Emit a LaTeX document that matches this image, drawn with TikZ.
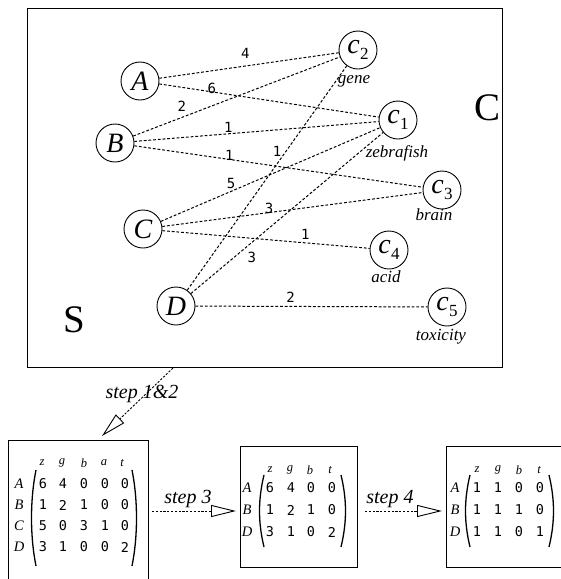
\documentclass[tikz,border=0pt]{standalone}
\usepackage{fontspec}
\setmainfont{Liberation Serif}
\newfontfamily\wfont{DejaVu Sans Mono}
\usetikzlibrary{arrows.meta}
\newcommand\cvert[1]{c\kern0.5pt\raisebox{-6pt}{\fontsize{17}{17}\selectfont\upshape #1}}
\tikzset{
 vert/.style={circle,draw,line width=0.9pt,minimum size=38pt,inner sep=0pt,font=\fontsize{28}{28}\selectfont\itshape},
 edge/.style={line width=1pt,dash pattern=on 2.8pt off 1.9pt},
 wt/.style={font=\wfont\fontsize{14}{14}\selectfont,inner sep=0pt},
 word/.style={font=\fontsize{17}{17}\selectfont\itshape,inner sep=0pt,anchor=base},
 big/.style={font=\fontsize{39}{39}\selectfont,inner sep=0pt,anchor=base},
 steplbl/.style={font=\fontsize{20}{20}\selectfont\itshape,inner sep=0pt,anchor=base},
 stepline/.style={line width=0.9pt,dash pattern=on 2.2pt off 1.6pt,-{Triangle[open,length=25pt,width=12pt,line width=0.9pt]}},
 hdr/.style={font=\fontsize{12.5}{12.5}\selectfont\itshape,inner sep=0pt},
 rowl/.style={font=\fontsize{14.5}{14.5}\selectfont\itshape,inner sep=0pt},
 dig/.style={font=\wfont\fontsize{13.5}{13.5}\selectfont,inner sep=0pt},
 paren/.style={line width=1.3pt},
 frame/.style={line width=1pt},
}
\begin{document}
\begin{tikzpicture}[x=1pt,y=-1pt]
\useasboundingbox (0,0) rectangle (561,579);
\clip (0,0) rectangle (561,579);
% top frame
\draw[frame] (27,8) rectangle (502,367);
% vertices
\node[vert] (A) at (140,81) {A};
\node[vert] (B) at (115,143) {B};
\node[vert] (C) at (143,229) {C};
\node[vert] (D) at (176,306) {D};
\node[vert] (c2) at (358,50) {\cvert{2}};
\node[vert] (c1) at (398,120) {\cvert{1}};
\node[vert] (c3) at (442,190) {\cvert{3}};
\node[vert] (c4) at (389,250) {\cvert{4}};
\node[vert] (c5) at (447,307) {\cvert{5}};
% words
\node[word] (wgene) at (354,83) {gene};
\node[word] (wzeb) at (397,157) {zebrafish};
\node[word] (wbrain) at (434,220) {brain};
\node[word] (wacid) at (386,282) {acid};
\node[word] (wtox) at (441,340) {toxicity};
\node[big] (bigC) at (488,120) {C};
\node[big] (bigS) at (74,332) {S};
% edges
\draw[edge] (A) -- node[wt,pos=.48,yshift=13pt]{4} (c2);
\draw[edge] (A) -- node[wt,pos=.24,yshift=3pt]{6} (c1);
\draw[edge] (B) -- node[wt,pos=.235,yshift=11pt]{2} (c2);
\draw[edge] (B) -- node[wt,pos=.385,yshift=6pt]{1} (c1);
\draw[edge] (B) -- node[wt,pos=.33,yshift=4pt]{1} (c3);
\draw[edge] (D) -- node[wt,pos=.62,xshift=-9pt]{1} (c2);
\draw[edge] (C) -- node[wt,pos=.32,yshift=8pt]{5} (c1);
\draw[edge] (D) -- node[wt,pos=.28,xshift=7pt,yshift=-9pt]{3} (c1);
\draw[edge] (C) -- node[wt,pos=.41,yshift=4pt]{3} (c3);
\draw[edge] (C) -- node[wt,pos=.69,yshift=8pt]{1} (c4);
\draw[edge] (D) -- node[wt,pos=.41,yshift=9pt]{2} (c5);
% steps
\coordinate (s1a) at (173,368);
\coordinate (s1b) at (102,436);
\draw[stepline] (s1a) -- (s1b);
\node[steplbl] (l12) at (142,398) {step 1\&2};
\coordinate (s3a) at (152,511);
\coordinate (s3b) at (236,511);
\draw[stepline] (s3a) -- (s3b);
\node[steplbl] (l3) at (188,503) {step 3};
\coordinate (s4a) at (365,511);
\coordinate (s4b) at (442,511);
\draw[stepline] (s4a) -- (s4b);
\node[steplbl] (l4) at (390,503) {step 4};
% boxes
\draw[frame] (8,590) -- (8,440) -- (148,440) -- (148,590);
\draw[frame] (240,446) rectangle (357,567);
\draw[frame] (580,446) -- (446,446) -- (446,567) -- (580,567);
% matrix 1
\foreach \h/\x [count=\i] in {z/42,g/62,b/84,a/104,t/122}
  \node[hdr] (m1h\i) at (\x,463) {\h};
\foreach \r/\y [count=\j] in {A/484,B/505,C/526,D/547}
  \node[rowl] (m1r\j) at (19,\y) {\r};
\foreach \y/\row [count=\j] in {484/{6/43,4/63,0/84,0/105,0/125},505/{1/43,2/63,1/84,0/105,0/125},526/{5/43,0/63,3/84,1/105,0/125},547/{3/43,1/63,0/84,0/105,2/125}}
  \foreach \v/\x [count=\i] in \row
    \node[dig] (m1d\j\i) at (\x,\y) {\v};
\draw[paren] (36,470) .. controls (30,500) and (30,536) .. (36,566);
\draw[paren] (132,470) .. controls (138,500) and (138,536) .. (132,566);
% matrix 2
\foreach \h/\x [count=\i] in {z/270,g/290,b/310,t/330}
  \node[hdr] (m2h\i) at (\x,470) {\h};
\foreach \r/\y [count=\j] in {A/488,B/510,D/532}
  \node[rowl] (m2r\j) at (247,\y) {\r};
\foreach \y/\row [count=\j] in {488/{6/270,4/291,0/311,0/332},510/{1/270,2/291,1/311,0/332},532/{3/270,1/291,0/311,2/332}}
  \foreach \v/\x [count=\i] in \row
    \node[dig] (m2d\j\i) at (\x,\y) {\v};
\draw[paren] (264,475) .. controls (258,500) and (258,522) .. (264,547);
\draw[paren] (341,475) .. controls (347,500) and (347,522) .. (341,547);
% matrix 3
\foreach \h/\x [count=\i] in {z/477,g/498,b/519,t/539}
  \node[hdr] (m3h\i) at (\x,470) {\h};
\foreach \r/\y [count=\j] in {A/488,B/510,D/532}
  \node[rowl] (m3r\j) at (455,\y) {\r};
\foreach \y/\row [count=\j] in {488/{1/477,1/498,0/519,0/540},510/{1/477,1/498,1/519,0/540},532/{1/477,1/498,0/519,1/540}}
  \foreach \v/\x [count=\i] in \row
    \node[dig] (m3d\j\i) at (\x,\y) {\v};
\draw[paren] (470,475) .. controls (464,500) and (464,522) .. (470,547);
\draw[paren] (549,475) .. controls (555,500) and (555,522) .. (549,547);
\end{tikzpicture}
\end{document}
